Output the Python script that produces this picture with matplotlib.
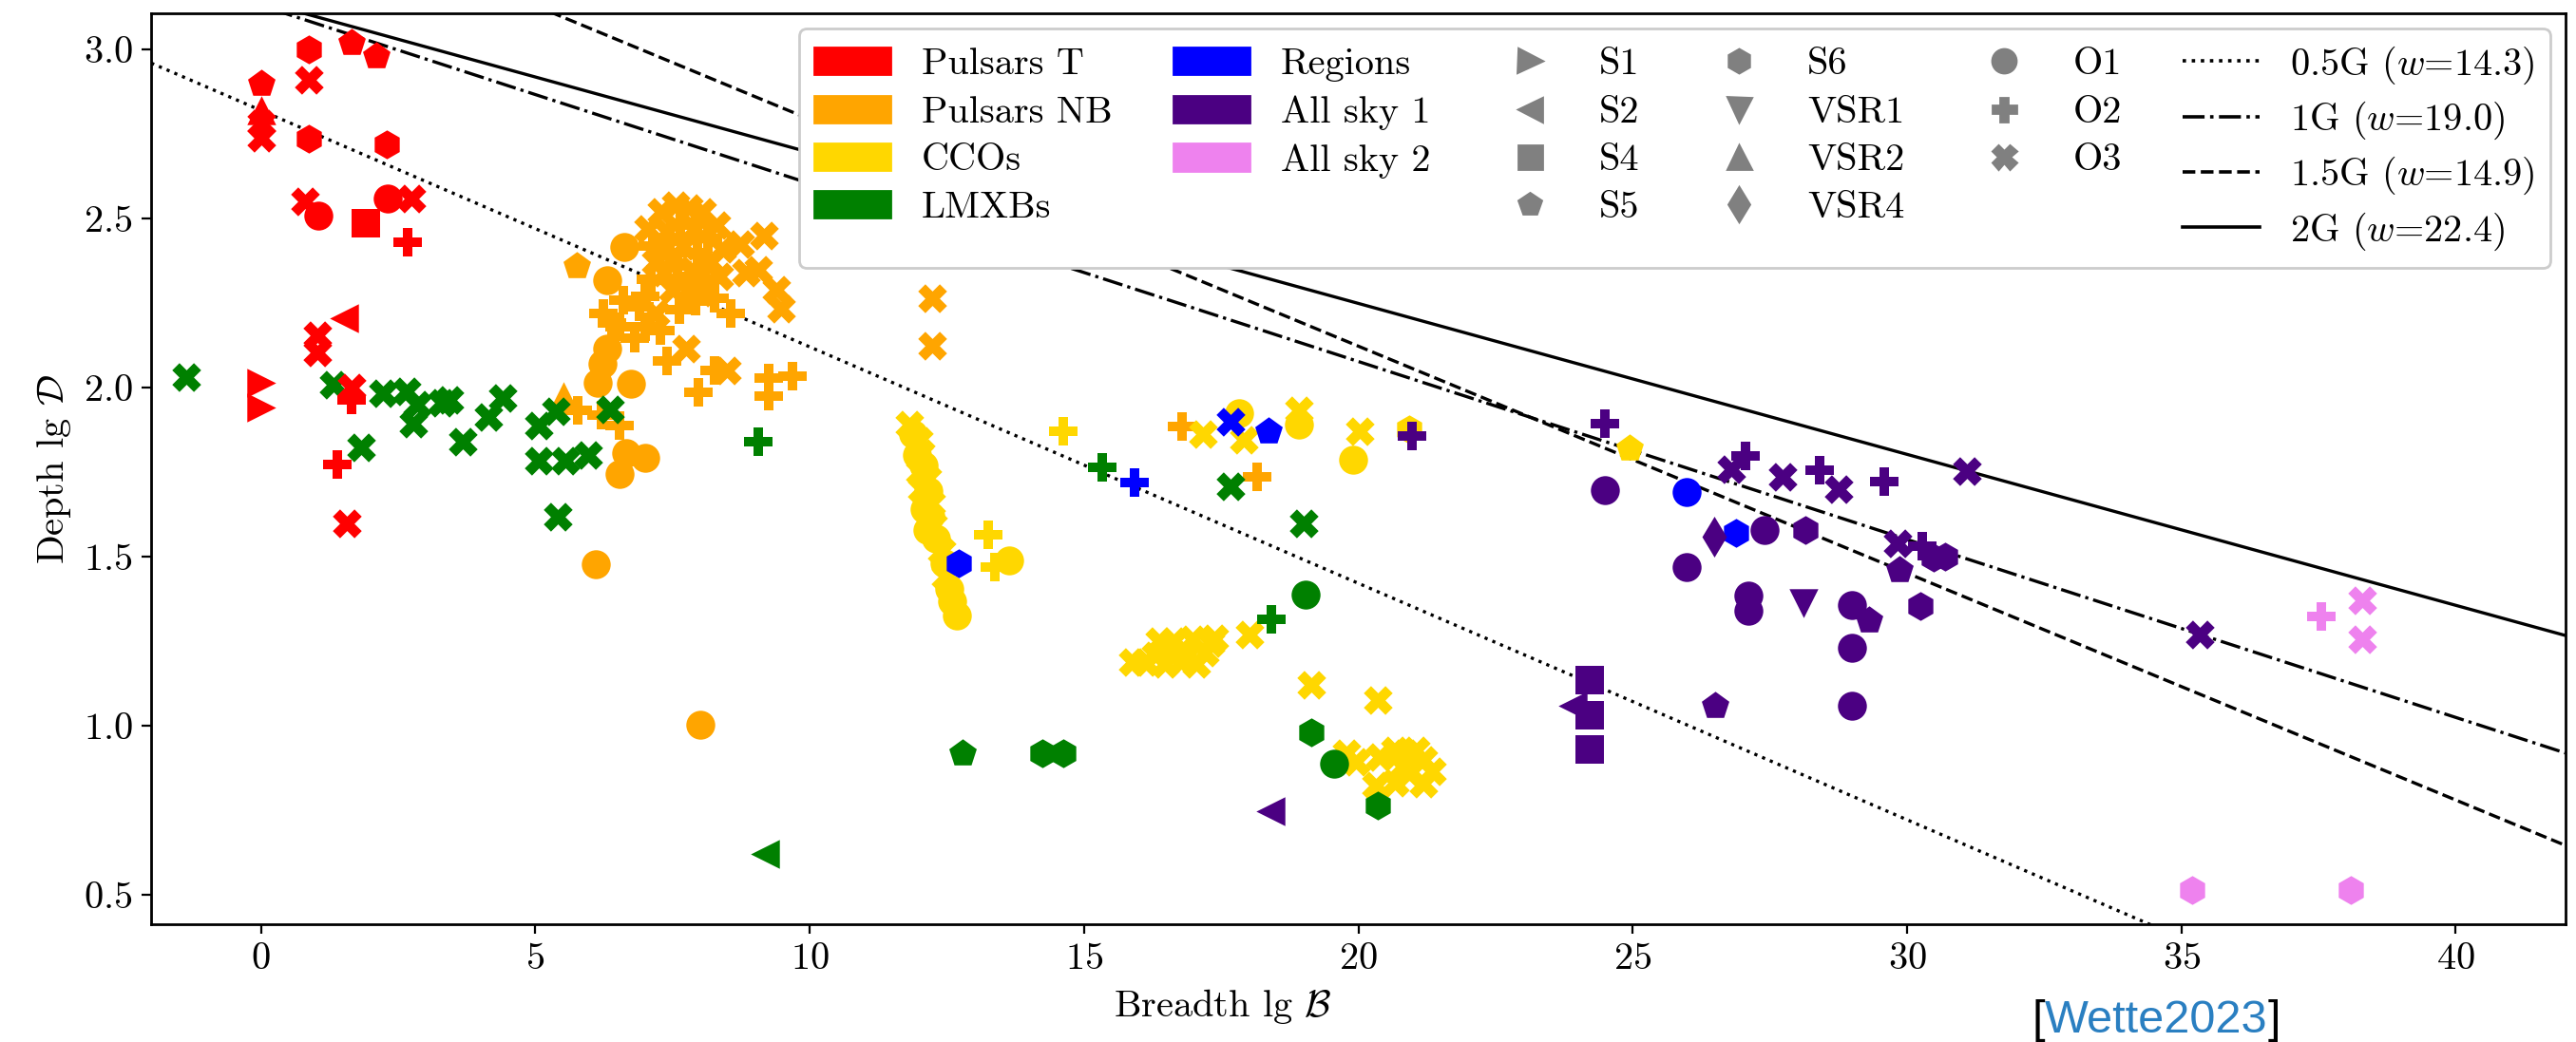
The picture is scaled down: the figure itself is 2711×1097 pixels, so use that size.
import numpy as np
import matplotlib.pyplot as plt
from matplotlib.lines import Line2D
from matplotlib.patches import Patch

plt.rcParams['font.family'] = 'serif'
plt.rcParams['font.serif'] = ['cmr10']
plt.rcParams['mathtext.fontset'] = 'cm'
plt.rcParams['axes.formatter.use_mathtext'] = True
plt.rcParams['font.size'] = 14.5

# runs and their markers
runs = ['S1', 'S2', 'S4', 'S5', 'S6', 'VSR1', 'VSR2', 'VSR4', 'O1', 'O2', 'O3']
run_markers = ['>', '<', 's', 'p', 'h', 'v', '^', 'd', 'o', 'P', 'X']

categories = ['Pulsars T', 'Pulsars NB', 'CCOs', 'LMXBs', 'Regions', 'All sky 1', 'All sky 2']
category_colors = ['red', 'orange', 'gold', 'green', 'blue', 'indigo', 'violet']

# Pulsars T
pulsars_t_B = [0.87, 1.65, 2.10, 0.87, 0.0, 0.0, 0.0, 0.0, 0.87, 2.29, 0.80, 1.05, 2.31, 2.75,
               1.91, 2.67, 1.51, 1.02, 1.02, 0.0, 0.0, 1.65, 1.65, 1.40, 1.56]
pulsars_t_D = [3.00, 3.02, 2.98, 2.91, 2.90, 2.82, 2.78, 2.74, 2.735, 2.72, 2.55, 2.51, 2.56, 2.56,
               2.486, 2.43, 2.205, 2.155, 2.105, 2.014, 1.94, 2.00, 1.965, 1.774, 1.598]
pulsars_t_run = ['S6', 'S5', 'S5', 'O3', 'S5', 'VSR2', 'O3', 'O3', 'S6', 'S6', 'O3', 'O1', 'O1', 'O3',
                 'S4', 'O2', 'S2', 'O3', 'O3', 'S1', 'S1', 'O3', 'O2', 'O2', 'O3']

# Pulsars NB
pulsars_nb_B = [5.75, 6.31, 6.62,
                7.05, 7.30, 7.55, 7.80, 8.05, 8.30, 7.15, 7.40, 7.65, 7.90, 8.15, 8.40,
                7.20, 7.45, 7.70, 7.95, 8.20, 7.10, 7.35, 7.60, 7.85, 8.10, 8.35,
                7.00, 7.50, 7.75, 8.00, 6.60, 6.90, 7.20, 6.40, 7.00,
                8.73, 9.16, 8.84, 9.07, 9.39, 9.48, 8.56,
                6.24, 6.53, 6.82, 7.28, 7.63, 7.92, 8.27,
                6.31, 6.23, 6.13, 7.75, 7.40, 8.50, 8.27, 9.25, 9.68, 9.25, 7.97,
                6.75, 5.52, 5.78, 6.53, 6.20, 6.65, 7.00, 6.53, 6.10, 8.00,
                12.24, 12.24, 16.79, 18.16]
pulsars_nb_D = [2.36, 2.317, 2.416,
                2.47, 2.52, 2.54, 2.53, 2.52, 2.48, 2.42, 2.46, 2.48, 2.47, 2.44, 2.41,
                2.37, 2.40, 2.42, 2.40, 2.37, 2.32, 2.34, 2.36, 2.35, 2.32, 2.33,
                2.27, 2.29, 2.30, 2.28, 2.26, 2.24, 2.22, 2.19, 2.18,
                2.425, 2.449, 2.34, 2.35, 2.29, 2.233, 2.22,
                2.22, 2.18, 2.145, 2.17, 2.23, 2.257, 2.265,
                2.116, 2.07, 2.013, 2.116, 2.079, 2.05, 2.05, 2.027, 2.035, 1.976, 1.985,
                2.011, 1.975, 1.933, 1.887, 1.92, 1.807, 1.793, 1.746, 1.479, 1.004,
                2.264, 2.124, 1.884, 1.737]
pulsars_nb_run = ['S5', 'O1', 'O1',
                  'O3', 'O3', 'O3', 'O3', 'O3', 'O3', 'O2', 'O3', 'O2', 'O3', 'O2', 'O3',
                  'O3', 'O2', 'O3', 'O2', 'O3', 'O2', 'O3', 'O2', 'O3', 'O2', 'O3',
                  'O2', 'O3', 'O2', 'O3', 'O2', 'O2', 'O3', 'O2', 'O2',
                  'O3', 'O3', 'O3', 'O3', 'O3', 'O3', 'O2',
                  'O2', 'O2', 'O2', 'O2', 'O2', 'O2', 'O2',
                  'O1', 'O1', 'O1', 'O3', 'O2', 'O3', 'O2', 'O2', 'O2', 'O2', 'O2',
                  'O1', 'VSR2', 'O2', 'O2', 'O2', 'O1', 'O1', 'O1', 'O1', 'O1',
                  'O3', 'O3', 'O2', 'O2']

# CCOs
ccos_B = [11.82, 11.88, 11.99, 11.95, 12.02, 12.08, 12.00, 12.14, 12.17, 12.05, 12.22, 12.10,
          12.20, 12.25, 12.15, 12.31, 12.40, 12.45, 12.48, 12.54, 12.60, 12.69,
          13.26, 13.38, 13.64, 14.63, 17.16, 17.83, 17.91, 18.91, 18.91, 20.02, 19.91,
          18.02, 19.15, 20.36, 20.93, 24.94,
          15.88, 16.11, 16.30, 16.38, 16.48, 16.64, 16.77, 16.97, 17.04, 17.30, 17.37, 17.20, 16.55, 16.90,
          19.79, 19.96, 20.39, 20.66, 20.86, 21.05, 21.19, 21.35, 20.92, 20.66, 20.32, 21.19, 20.80]
ccos_D = [1.891, 1.863, 1.844, 1.800, 1.807, 1.770, 1.750, 1.732, 1.695, 1.700, 1.657, 1.640,
          1.620, 1.592, 1.580, 1.555, 1.517, 1.480, 1.442, 1.405, 1.367, 1.325,
          1.564, 1.470, 1.490, 1.871, 1.863, 1.924, 1.845, 1.933, 1.891, 1.871, 1.788,
          1.269, 1.122, 1.077, 1.877, 1.821,
          1.189, 1.189, 1.208, 1.250, 1.184, 1.250, 1.189, 1.255, 1.184, 1.245, 1.260, 1.217, 1.217, 1.210,
          0.918, 0.894, 0.908, 0.927, 0.918, 0.927, 0.899, 0.866, 0.861, 0.833, 0.824, 0.830, 0.880]
ccos_run = ['O3', 'O1', 'O3', 'O1', 'O3', 'O1', 'O3', 'O3', 'O1', 'O3', 'O3', 'O1',
            'O1', 'O3', 'O1', 'O1', 'O3', 'O1', 'O3', 'O1', 'O1', 'O1',
            'O2', 'O2', 'O1', 'O2', 'O3', 'O1', 'O3', 'O3', 'O1', 'O3', 'O1',
            'O3', 'O3', 'O3', 'S6', 'S5',
            'O3', 'O3', 'O3', 'O3', 'O3', 'O3', 'O3', 'O3', 'O3', 'O3', 'O3', 'O3', 'O3', 'O3',
            'O3', 'O3', 'O3', 'O3', 'O3', 'O3', 'O3', 'O3', 'O3', 'O3', 'O3', 'O3', 'O3']

# LMXBs
lmxbs_B = [-1.37, 1.33, 1.83, 2.23, 2.66, 2.84, 2.78, 3.30, 3.44, 3.67, 4.14, 4.40, 5.06, 5.38,
           5.06, 5.54, 5.96, 5.41, 6.36,
           9.06, 15.33, 18.41, 17.67, 19.00, 19.04, 19.56, 19.15, 20.36, 14.25, 14.63, 12.79, 9.19]
lmxbs_D = [2.03, 2.01, 1.824, 1.984, 1.99, 1.95, 1.894, 1.955, 1.965, 1.84, 1.914, 1.97, 1.889, 1.93,
           1.784, 1.784, 1.80, 1.618, 1.935,
           1.84, 1.765, 1.314, 1.709, 1.598, 1.388, 0.888, 0.981, 0.763, 0.919, 0.919, 0.919, 0.62]
lmxbs_run = ['O3'] * 19 + ['O2', 'O2', 'O2', 'O3', 'O3', 'O1', 'O1', 'S6', 'S6', 'S6', 'S6', 'S5', 'S2']

# Regions
regions_B = [12.72, 15.93, 17.67, 18.37, 25.99, 26.89]
regions_D = [1.48, 1.72, 1.899, 1.871, 1.69, 1.571]
regions_run = ['S6', 'O2', 'O3', 'S5', 'O1', 'S6']

# All sky 1
all_sky_1_B = [18.40, 23.90, 24.22, 24.22, 24.22, 20.98, 24.50, 24.50, 25.98, 26.49, 27.40, 27.11,
               27.11, 28.11, 28.99, 29.31, 28.99, 28.15, 30.25, 26.80, 27.05, 27.74, 28.40, 28.76,
               29.58, 29.82, 30.28, 29.87, 30.48, 30.70, 26.50, 28.99, 31.09, 35.33]
all_sky_1_D = [0.747, 1.06, 1.135, 1.03, 0.93, 1.856, 1.893, 1.697, 1.47, 1.559, 1.578, 1.386,
               1.339, 1.362, 1.358, 1.311, 1.231, 1.578, 1.353, 1.76, 1.798, 1.737, 1.756, 1.70,
               1.723, 1.54, 1.531, 1.461, 1.498, 1.50, 1.058, 1.058, 1.754, 1.269]
all_sky_1_run = ['S2', 'S2', 'S4', 'S4', 'S4', 'O2', 'O2', 'O1', 'O1', 'VSR4', 'O1', 'O1',
                 'O1', 'VSR1', 'O1', 'S5', 'O1', 'S6', 'S6', 'O3', 'O2', 'O3', 'O2', 'O3',
                 'O2', 'O3', 'O2', 'S5', 'S6', 'S6', 'S5', 'O1', 'O3', 'O3']

# All sky 2
all_sky_2_B = [37.55, 38.30, 38.30, 35.20, 38.08]
all_sky_2_D = [1.323, 1.372, 1.255, 0.513, 0.513]
all_sky_2_run = ['O2', 'O3', 'O3', 'S6', 'S6']

# sensitivity depth lines D = c - B / w
line_labels = ['0.5G', '1G', '1.5G', '2G']
line_w = [14.3, 19.0, 14.9, 22.4]
line_c = [2.82, 3.13, 3.465, 3.142]
line_styles = [':', '-.', '--', '-']

series = [
    (pulsars_t_B, pulsars_t_D, pulsars_t_run, 5),
    (pulsars_nb_B, pulsars_nb_D, pulsars_nb_run, 2),
    (ccos_B, ccos_D, ccos_run, 3),
    (lmxbs_B, lmxbs_D, lmxbs_run, 4),
    (regions_B, regions_D, regions_run, 6),
    (all_sky_1_B, all_sky_1_D, all_sky_1_run, 7),
    (all_sky_2_B, all_sky_2_D, all_sky_2_run, 8),
]

fig = plt.figure(figsize=(13.555, 5.485), dpi=200)
ax = fig.add_axes([0.0587, 0.113, 0.9372, 0.8742])

for (B, D, run, z), color in zip(series, category_colors):
    B = np.array(B)
    D = np.array(D)
    run = np.array(run)
    for r, m in zip(runs, run_markers):
        sel = run == r
        if sel.any():
            ax.scatter(B[sel], D[sel], marker=m, s=120, color=color, linewidths=0, zorder=z)

xx = np.array([-2.0, 42.0])
for c, w, ls in zip(line_c, line_w, line_styles):
    ax.plot(xx, c - xx / w, color='k', linestyle=ls, lw=1.2, zorder=1)

ax.set_xlim(-2, 42)
ax.set_ylim(0.413, 3.107)
ax.set_xticks(np.arange(0, 41, 5))
ax.set_yticks([0.5, 1.0, 1.5, 2.0, 2.5, 3.0])
ax.set_xlabel(r'Breadth lg $\mathcal{B}$')
ax.set_ylabel(r'Depth lg $\mathcal{D}$')
ax.xaxis.label.set_x(0.444)
for sp in ax.spines.values():
    sp.set_linewidth(1.0)

# legend
cat_handles = [Patch(facecolor=c, edgecolor=c) for c in category_colors]
run_handles = [Line2D([], [], linestyle='none', marker=m, color='gray', markersize=9) for m in run_markers]
line_handles = [Line2D([], [], color='k', linestyle=ls, lw=1.3) for ls in line_styles]
blank = Line2D([], [], linestyle='none')
line_text = ['%s ($w$=%.1f)' % (l, w) for l, w in zip(line_labels, line_w)]

handles = cat_handles + [blank] + run_handles + [blank] + line_handles
labels = categories + [''] + runs + [''] + line_text
ax.legend(handles, labels, ncol=6, loc='upper right', fontsize=14.5, borderaxespad=0.4,
          columnspacing=1.6, labelspacing=0.35, framealpha=1.0)

# citation tag
t1 = fig.text(0.7887, 0.0, '[', fontsize=17.5, family='Liberation Sans', color='black', va='bottom')
t2 = ax.annotate('Wette2023', xy=(1, 0), xycoords=t1, fontsize=17.5, family='Liberation Sans',
                 color='#2a7fc1', va='bottom')
ax.annotate(']', xy=(1, 0), xycoords=t2, fontsize=17.5, family='Liberation Sans',
            color='black', va='bottom')

fig.savefig('out.png', dpi=200)
